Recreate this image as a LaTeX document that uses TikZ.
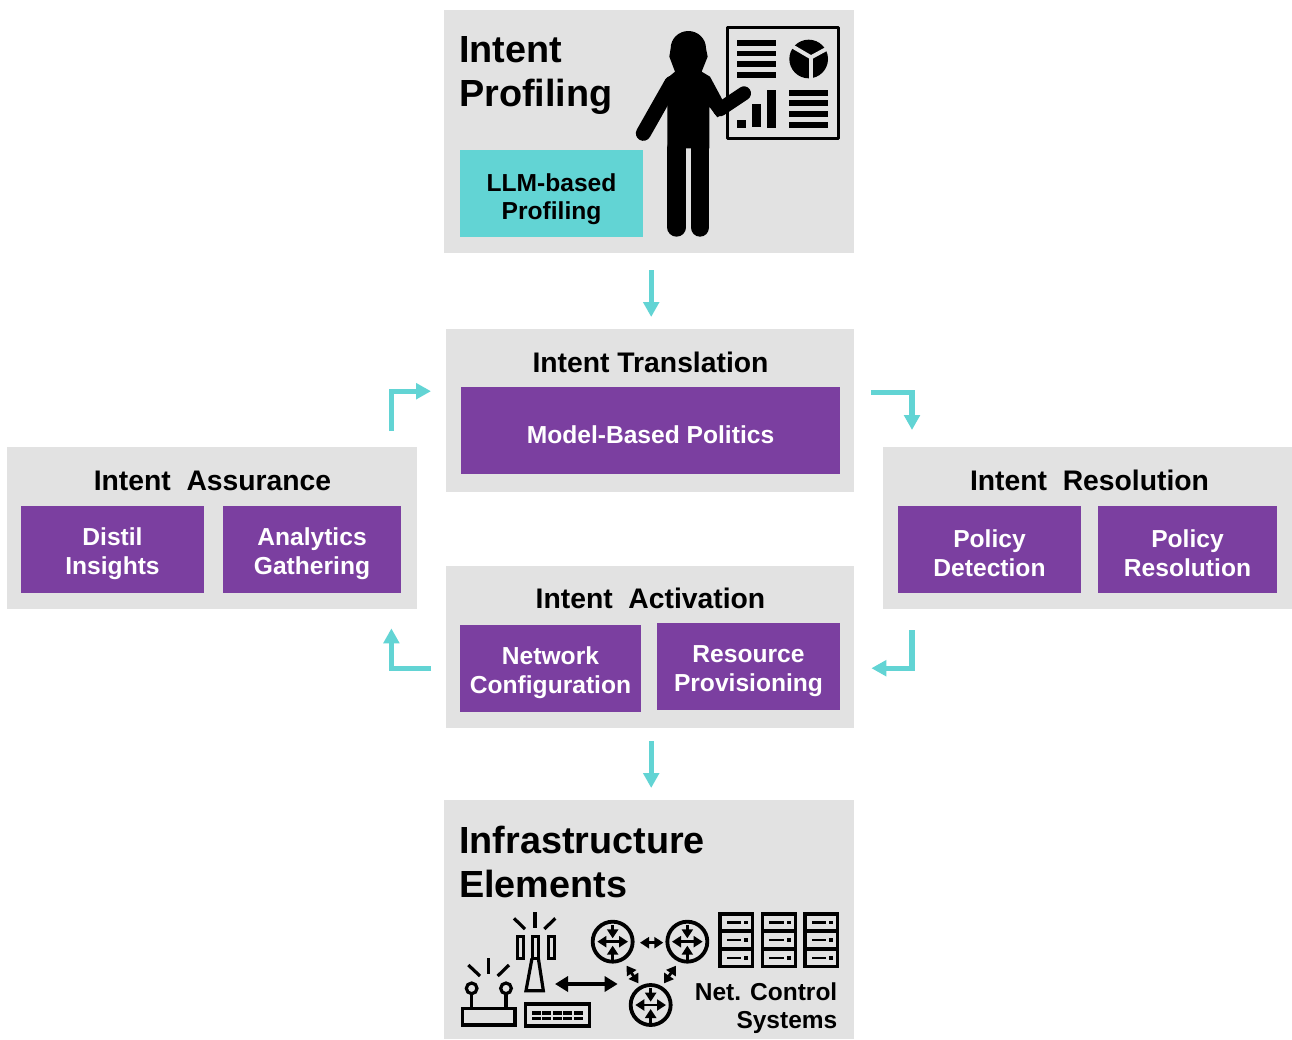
\documentclass[tikz,border=0pt]{standalone}
\usepackage{fontspec}
\setmainfont{Liberation Sans}
\usetikzlibrary{arrows.meta}
\definecolor{panelgray}{HTML}{E2E2E2}
\definecolor{teal}{HTML}{62D4D4}
\definecolor{violet}{HTML}{7B3FA0}
\newcommand{\liftsub}{\rule{0pt}{26pt}}
\newcommand{\liftteal}{\rule{0pt}{30pt}}
\tikzset{
  x=1pt,y=-1pt,
  panelbox/.style={fill=panelgray,draw=none},
  sub/.style={fill=violet,text=white,font=\bfseries\fontsize{24.6}{29}\selectfont,align=center,inner sep=0pt,outer sep=0pt},
  tealsub/.style={fill=teal,text=black,font=\bfseries\fontsize{24.6}{28}\selectfont,align=center,inner sep=0pt,outer sep=0pt},
  midtitle/.style={font=\bfseries\fontsize{28.3}{32}\selectfont,inner sep=0pt,anchor=base},
  bigtitle/.style={font=\bfseries\fontsize{37.8}{44}\selectfont,inner sep=0pt,anchor=base west},
  flow/.style={draw=teal,line width=5.2pt,-{Triangle[length=15pt,width=15.5pt]}},
  ink/.style={draw=black,line width=3.2pt},
  thinink/.style={draw=black,line width=3pt},
  dbl/.style={draw=black,line width=2.8pt,{Triangle[length=9pt,width=11pt]}-{Triangle[length=9pt,width=11pt]}},
  sgl/.style={draw=black,line width=2.8pt,-{Triangle[length=9pt,width=11pt]}},
  limb/.style={draw=black,line cap=round},
}
\newcommand{\boxat}[6]{\node[#2,minimum width=#5-#3,minimum height=#6-#4,anchor=north west] (#1) at (#3,#4)}
\newcommand{\routericon}[2]{%
  \draw[ink,line width=3.8pt] (#1,#2) circle (60);
  \draw[dbl] (#1-46,#2) -- (#1+46,#2);
  \draw[sgl] (#1,#2-50) -- (#1,#2-10);
  \draw[sgl] (#1,#2+56) -- (#1,#2+12);
}
\begin{document}
\begin{tikzpicture}
\useasboundingbox (0,0) rectangle (1292,1039);
\fill[white] (0,0) rectangle (1292,1039);
% panels
\boxat{profiling}{panelbox}{444}{10}{854}{253} {};
\boxat{translation}{panelbox}{446}{329}{854}{492} {};
\boxat{assurance}{panelbox}{7}{447}{417}{609} {};
\boxat{resolution}{panelbox}{883}{447}{1292}{609} {};
\boxat{activation}{panelbox}{446}{566}{854}{728} {};
\boxat{infra}{panelbox}{444}{800}{854}{1039} {};
% sub boxes
\boxat{llm}{tealsub}{460}{150}{643}{237} {\liftteal LLM-based\\Profiling};
\boxat{model}{sub}{461}{387}{840}{474} {\liftsub Model-Based Politics};
\boxat{distil}{sub}{21}{506}{204}{593} {\liftsub Distil\\Insights};
\boxat{analytics}{sub}{223}{506}{401}{593} {\liftsub Analytics\\Gathering};
\boxat{detect}{sub}{898}{506}{1081}{593} {\liftsub Policy\\Detection};
\boxat{polres}{sub}{1098}{506}{1277}{593} {\liftsub Policy\\Resolution};
\boxat{netconf}{sub}{460}{625}{641}{712} {\liftsub Network\\Configuration};
\boxat{resprov}{sub}{657}{623}{840}{710} {\liftsub Resource\\Provisioning};
% titles
\node[bigtitle] (t1a) at (459,62) {Intent};
\node[bigtitle] (t1b) at (459,106) {Profiling};
\node[bigtitle] (t6a) at (459,853) {Infrastructure};
\node[bigtitle] (t6b) at (459,897) {Elements};
\node[midtitle] (t2) at (650.5,372) {Intent Translation};
\node[midtitle] (t3) at (212.5,490) {Intent\ \ Assurance};
\node[midtitle] (t4) at (1089.5,490) {Intent\ \ Resolution};
\node[midtitle] (t5) at (650.5,608) {Intent\ \ Activation};
\node[font=\bfseries\fontsize{24.5}{28}\selectfont,align=right,anchor=south east,inner sep=0pt] (netctl) at (837.5,1034) {Net. Control\\Systems};
% connectors
\draw[flow,shorten <=17pt,shorten >=12pt] ([xshift=2pt]profiling.south) -- ([xshift=1pt]translation.north);
\draw[flow,shorten <=13pt,shorten >=12pt] ([xshift=1pt]activation.south) -- ([xshift=2pt]infra.north);
\draw[flow,shorten <=16pt,shorten >=15pt] ([xshift=-26pt]assurance.north east) |- ([yshift=19.5pt]translation.west);
\draw[flow,shorten <=17pt,shorten >=17pt] ([yshift=18.5pt]translation.east) -| ([xshift=29pt]resolution.north west);
\draw[flow,shorten <=21pt,shorten >=17pt] ([xshift=29pt]resolution.south west) |- ([yshift=-21pt]activation.east);
\draw[flow,shorten <=15pt,shorten >=19pt] ([yshift=-21pt]activation.west) -| ([xshift=-26pt]assurance.south east);
% presenter icon
\begin{scope}[shift={(630,15)},scale=1/3]
  \draw[ink,line width=2.6pt,line join=round] (292,37) rectangle (626,370);
  \foreach \y/\h in {75/17,108/16,138/18,171/17} \fill (321,\y) rectangle (438,\y+\h);
  \foreach \y in {225,255,288,321} \fill (477,\y) rectangle (594,\y+18);
  \fill (321,315) rectangle (348,339);
  \fill (366,267) rectangle (393,336);
  \fill (411,225) rectangle (438,339);
  \fill (536,132) circle (58);
  \draw[draw=panelgray,line width=4pt] (543,127) -- (543,195);
  \draw[draw=panelgray,line width=4pt] (543,127) -- (480,90);
  \draw[draw=panelgray,line width=4pt] (543,127) -- (600,96);
  \fill (135,170) -- (118,125) -- (122,100) .. controls (122,71) and (146,48) .. (175,48) .. controls (204,48) and (228,71) .. (228,100) -- (233,125) -- (215,170) -- (240,185) -- (275,250) -- (290,290) -- (262,307) -- (238,275) -- (238,400) -- (112,400) -- (112,270) -- (105,195) -- cycle;
  \draw[limb,line width=15pt] (40,355) -- (125,205);
  \draw[limb,line width=14pt] (270,283) -- (342,235);
  \draw[limb,line width=18.7pt] (140,400) -- (140,637);
  \draw[limb,line width=18.7pt] (210,400) -- (210,637);
\end{scope}
% network icons
\begin{scope}[shift={(450,900)},scale=1/3]
  % wireless router
  \draw[ink] (37,325) rectangle (195,375);
  \draw[ink] (65,265) circle (16);
  \draw[ink] (168,265) circle (16);
  \draw[ink] (65,281) -- (65,325);
  \draw[ink] (168,281) -- (168,325);
  \draw[ink] (55,195) -- (90,228);
  \draw[ink] (116,175) -- (116,222);
  \draw[ink] (177,195) -- (143,228);
  % tower
  \draw[thinink] (201,110) rectangle (219,175);
  \draw[thinink] (248,110) rectangle (266,175);
  \draw[thinink] (296,110) rectangle (314,175);
  \draw[ink,line join=miter] (246,175) -- (228,272) -- (280,272) -- (265,175);
  \draw[ink] (192,55) -- (225,87);
  \draw[ink] (255,37) -- (255,85);
  \draw[ink] (316,55) -- (283,87);
  % switch
  \draw[ink,line width=3.2pt] (226,312) rectangle (418,378);
  \foreach \x in {246,277,308,340,371}
    \foreach \y in {333,350} \fill (\x,\y) rectangle (\x+27,\y+11);
  % routers
  \routericon{488}{125}
  \routericon{712}{125}
  \routericon{602}{315}
  \draw[dbl,line width=3.4pt,{Triangle[length=13pt,width=15pt]}-{Triangle[length=13pt,width=15pt]}] (315,252) -- (503,252);
  \draw[dbl] (570,128) -- (640,128);
  \draw[dbl] (530,197) -- (565,250);
  \draw[dbl] (678,197) -- (642,250);
  % servers
  \foreach \x in {805,933,1060} {
    \draw[ink,line width=3.6pt] (\x+5,42) rectangle (\x+103,200);
    \draw[ink,line width=3.2pt] (\x+5,93) -- (\x+103,93);
    \draw[ink,line width=3.2pt] (\x+5,147) -- (\x+103,147);
    \foreach \y in {67,120,174} {
      \fill (\x+25,\y-4) rectangle (\x+68,\y+4);
      \fill (\x+77,\y-5) rectangle (\x+90,\y+5);
    }
  }
\end{scope}
\end{tikzpicture}
\end{document}
